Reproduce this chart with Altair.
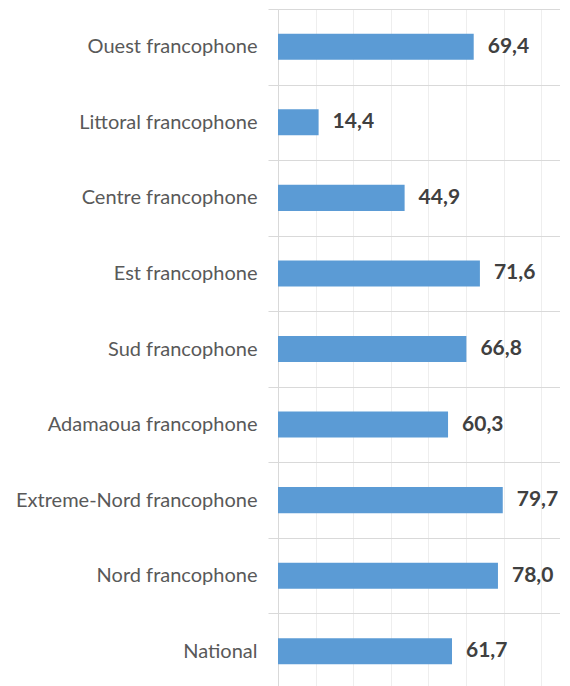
import altair as alt
import pandas as pd

categories = [
    "Ouest francophone",
    "Littoral francophone",
    "Centre francophone",
    "Est francophone",
    "Sud francophone",
    "Adamaoua francophone",
    "Extreme-Nord francophone",
    "Nord francophone",
    "National",
]
values = [69.4, 14.4, 44.9, 71.6, 66.8, 60.3, 79.7, 78.0, 61.7]

df = pd.DataFrame({"cat": categories, "v": values})

grid_vals = [i * 10 / 3 for i in range(31)]

y_enc = alt.Y(
    "cat:N",
    sort=categories,
    title=None,
    scale=alt.Scale(paddingInner=0, paddingOuter=0),
    axis=alt.Axis(
        tickBand="extent",
        grid=True,
        gridColor="#d9d9d9",
        tickColor="#d9d9d9",
        tickSize=10,
        domainColor="#d9d9d9",
        labelFont="Lato",
        labelFontSize=20,
        labelColor="#595959",
        labelPadding=11,
        labelLimit=0,
    ),
)
x_enc = alt.X(
    "v:Q",
    scale=alt.Scale(domain=[0, 100], nice=False),
    axis=alt.Axis(
        values=grid_vals,
        labels=False,
        ticks=False,
        domain=False,
        title=None,
        gridColor="#eeeeee",
    ),
)

bars = alt.Chart(df).mark_bar(
    color="#5B9BD5", height=alt.RelativeBandSize(0.345)
).encode(x=x_enc, y=y_enc)

text = alt.Chart(df).transform_calculate(
    lab="replace(format(datum.v, '.1f'), '.', ',')"
).mark_text(
    align="left", baseline="middle", dx=14, font="Lato", fontWeight="bold",
    fontSize=21, color="#404040"
).encode(x="v:Q", y=alt.Y("cat:N", sort=categories), text="lab:N")

chart = (
    alt.layer(bars, text)
    .properties(
        width=282,
        height=680,
        autosize=alt.AutoSizeParams(type="none"),
        padding={"left": 270, "top": 1, "right": 0, "bottom": 0},
    )
    .configure_view(stroke=None)
)

chart.save("out.html", embed_options={"renderer": "svg", "actions": False})
